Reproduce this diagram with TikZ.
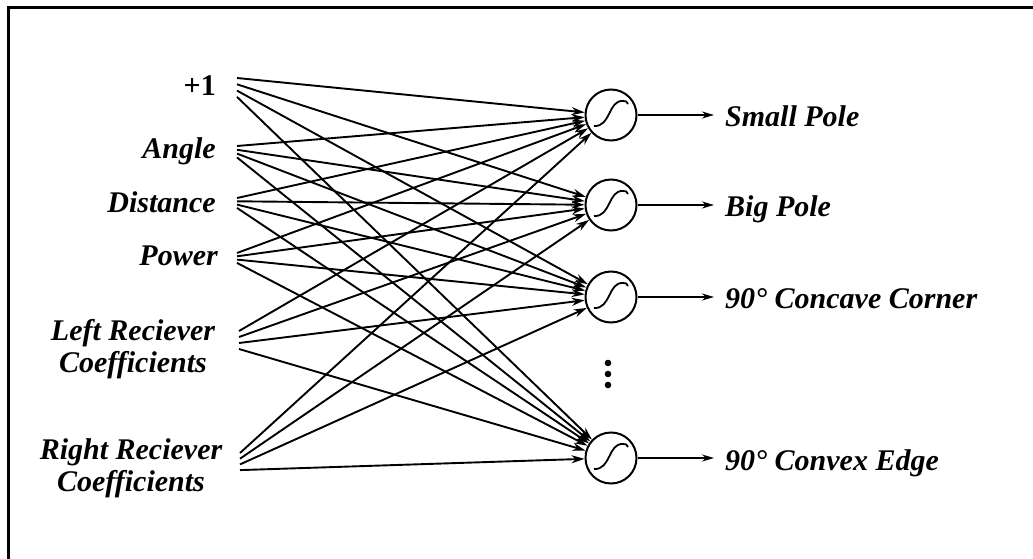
\documentclass[tikz,border=0pt]{standalone}
\usepackage{fontspec}
\setmainfont{Liberation Serif}
\usetikzlibrary{arrows.meta}
\begin{document}
\begin{tikzpicture}[x=1pt,y=-1pt,
  lab/.style={font=\fontsize{30}{32}\selectfont\bfseries\itshape, inner sep=0pt},
  outlab/.style={lab, inner xsep=11pt},
  neuron/.style={circle, draw, line width=2pt, minimum size=51pt, inner sep=0pt},
  conn/.style={line width=1.9pt, -{Stealth[length=13pt,width=8pt]}},
  outarr/.style={line width=1.7pt, -{Stealth[length=12pt,width=7pt]}},
  sig/.style={line width=1.8pt}]
\useasboundingbox (0,0) rectangle (1033,559);
\draw[line width=3pt] (1033,8) -- (8,8) -- (8,559);

% input labels
\node[lab, anchor=base east] (l1) at (216,96) {\upshape +1};
\node[lab, anchor=base east] (l2) at (216,158) {Angle};
\node[lab, anchor=base east] (l3) at (216,212) {Distance};
\node[lab, anchor=base east] (l4) at (218,265) {Power};
\node[lab, align=center] (l5) at (133,349) {Left Reciever\\Coefficients};
\node[lab, align=center] (l6) at (131,468) {Right Reciever\\Coefficients};

% line start points
\coordinate (in1) at (237,78);
\coordinate (in2) at (237,146);
\coordinate (in3) at (237,198);
\coordinate (in4) at (237,253);
\coordinate (in5) at (239,331);
\coordinate (in6) at (240,453);

% neurons
\node[neuron] (n1) at (611,115) {};
\node[neuron] (n2) at (611,205) {};
\node[neuron] (n3) at (611,297) {};
\node[neuron] (n4) at (611,458) {};
\foreach \j in {1,...,4}{
  \begin{scope}[shift={(n\j)}]
    \draw[sig] (-17,11) .. controls (0,12) and (-3,-15) .. (12,-14)
               .. controls (15,-14) .. (17,-11);
  \end{scope}
}

% connections
\foreach \i/\st in {1/6.3,2/3.8,3/3.3,4/3.3,5/6,6/5.7}{
  \foreach \j in {1,...,4}{
    \draw[conn] ([yshift={-(\j-1)*\st}]in\i) -- (n\j);
  }
}

% dots
\foreach \y in {363,374,385}{
  \fill (608,\y) circle (3.3pt);
}

% outputs
\node[outlab, anchor=base west] (o1) at (714,127) {Small Pole};
\node[outlab, anchor=base west] (o2) at (714,216) {Big Pole};
\node[outlab, anchor=base west] (o3) at (714,308) {90° Concave Corner};
\node[outlab, anchor=base west] (o4) at (714,470) {90° Convex Edge};
\foreach \j in {1,...,4}{
  \draw[outarr] (n\j) -- (n\j -| o\j.west);
}
\end{tikzpicture}
\end{document}
